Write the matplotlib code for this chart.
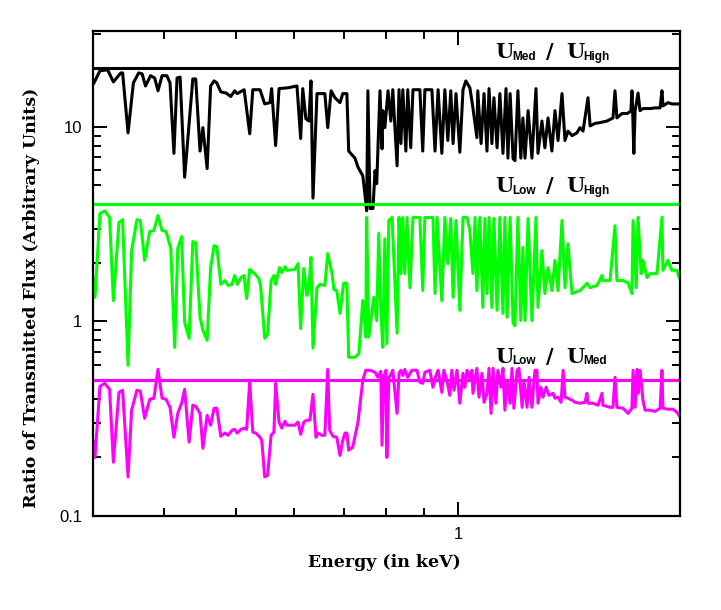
import matplotlib
matplotlib.use("Agg")
import matplotlib.pyplot as plt
from matplotlib.ticker import LogLocator, NullFormatter

# U_Med / U_High  (black)
energy_mh = [0.321, 0.327, 0.335, 0.341, 0.349, 0.351, 0.357, 0.363, 0.369, 0.373,
             0.377, 0.383, 0.388, 0.392, 0.397, 0.403, 0.407, 0.412, 0.416, 0.420,
             0.426, 0.437, 0.441, 0.447, 0.451, 0.457, 0.462, 0.467, 0.471, 0.477,
             0.485, 0.492, 0.498, 0.502, 0.513, 0.522, 0.527, 0.539, 0.547, 0.556,
             0.559, 0.566, 0.572, 0.588, 0.605, 0.612, 0.616, 0.622, 0.628, 0.632,
             0.636, 0.644, 0.660, 0.666, 0.673, 0.681, 0.692, 0.698, 0.707, 0.711,
             0.725, 0.732, 0.743, 0.748, 0.752, 0.755, 0.760, 0.767, 0.772, 0.776,
             0.784, 0.789, 0.791, 0.796, 0.804, 0.811, 0.816, 0.827, 0.832, 0.837,
             0.842, 0.850, 0.855, 0.863, 0.869, 0.888, 0.896, 0.902, 0.922, 0.931,
             0.940, 0.951, 0.960, 0.969, 0.978, 0.985, 0.994, 1.006, 1.016, 1.025,
             1.038, 1.048, 1.061, 1.064, 1.075, 1.085, 1.095, 1.102, 1.112, 1.119,
             1.130, 1.140, 1.151, 1.162, 1.169, 1.177, 1.188, 1.195, 1.206, 1.217,
             1.225, 1.233, 1.245, 1.260, 1.276, 1.284, 1.300, 1.312, 1.325, 1.341,
             1.354, 1.367, 1.384, 1.397, 1.410, 1.428, 1.450, 1.464, 1.478, 1.501,
             1.511, 1.534, 1.558, 1.593, 1.623, 1.633, 1.643, 1.669, 1.696, 1.716,
             1.722, 1.726, 1.732, 1.739, 1.755, 1.766, 1.782, 1.822, 1.851, 1.880,
             1.891, 1.897, 1.927, 1.951, 1.982, 2.000]
ratio_mh = [16.8, 19.4, 19.6, 17.0, 18.9, 18.9, 9.3, 16.8, 18.9, 18.7,
            16.2, 18.3, 17.8, 15.3, 18.3, 18.3, 16.8, 7.3, 17.8, 18.0,
            5.5, 17.6, 17.6, 7.5, 9.9, 6.1, 16.2, 17.2, 16.8, 15.1,
            14.9, 14.3, 15.3, 14.8, 15.5, 9.2, 15.5, 15.5, 13.1, 13.3,
            15.7, 8.0, 15.7, 15.85, 16.2, 8.7, 15.7, 11.0, 10.7, 17.2,
            4.3, 14.8, 14.8, 9.9, 15.3, 14.1, 13.3, 14.8, 14.8, 7.5,
            6.9, 6.2, 5.6, 4.5, 3.7, 15.3, 3.8, 3.8, 5.95, 5.1,
            15.3, 7.7, 12.1, 9.9, 15.3, 10.7, 15.5, 6.3, 15.5, 8.2,
            15.5, 7.5, 15.5, 7.8, 15.5, 15.5, 7.5, 15.5, 15.5, 7.5,
            15.5, 7.3, 15.5, 8.5, 15.3, 8.2, 14.8, 7.4, 15.5, 17.2,
            15.85, 12.5, 8.8, 15.3, 8.2, 14.8, 7.5, 15.7, 8.2, 14.1,
            7.8, 14.8, 7.3, 15.7, 6.9, 14.8, 6.85, 6.7, 15.3, 6.9,
            11.1, 6.9, 12.1, 6.9, 15.7, 7.3, 10.7, 7.8, 11.1, 7.5,
            12.1, 8.5, 14.8, 8.5, 9.5, 9.0, 9.3, 9.9, 9.5, 14.1,
            10.1, 10.4, 10.5, 10.7, 11.1, 15.3, 11.1, 11.7, 11.7, 12.0,
            15.3, 11.8, 7.3, 12.1, 14.9, 12.1, 12.4, 12.4, 12.5, 12.5,
            15.3, 12.8, 13.3, 13.1, 13.1, 13.1]

# U_Low / U_High  (green)
energy_lh = [0.320, 0.322, 0.327, 0.332, 0.337, 0.341, 0.347, 0.351, 0.357, 0.361,
             0.367, 0.371, 0.376, 0.382, 0.387, 0.392, 0.397, 0.402, 0.408, 0.413,
             0.417, 0.422, 0.426, 0.432, 0.437, 0.441, 0.447, 0.451, 0.457, 0.462,
             0.467, 0.471, 0.477, 0.483, 0.488, 0.494, 0.498, 0.502, 0.508, 0.513,
             0.517, 0.522, 0.530, 0.537, 0.540, 0.547, 0.552, 0.558, 0.563, 0.566,
             0.573, 0.577, 0.583, 0.586, 0.601, 0.607, 0.612, 0.618, 0.624, 0.628,
             0.632, 0.636, 0.644, 0.650, 0.660, 0.666, 0.675, 0.679, 0.685, 0.692,
             0.700, 0.707, 0.711, 0.725, 0.734, 0.743, 0.750, 0.752, 0.757, 0.764,
             0.769, 0.776, 0.781, 0.786, 0.791, 0.796, 0.801, 0.806, 0.814, 0.819,
             0.827, 0.832, 0.837, 0.842, 0.847, 0.853, 0.861, 0.869, 0.888, 0.896,
             0.902, 0.925, 0.931, 0.937, 0.951, 0.960, 0.969, 0.978, 0.985, 0.994,
             1.006, 1.016, 1.029, 1.038, 1.048, 1.055, 1.061, 1.071, 1.081, 1.088,
             1.095, 1.102, 1.112, 1.119, 1.130, 1.140, 1.151, 1.158, 1.166, 1.177,
             1.188, 1.195, 1.206, 1.217, 1.225, 1.233, 1.245, 1.260, 1.276, 1.284,
             1.300, 1.312, 1.325, 1.341, 1.354, 1.367, 1.384, 1.397, 1.410, 1.428,
             1.442, 1.464, 1.497, 1.511, 1.544, 1.568, 1.573, 1.608, 1.633, 1.643,
             1.675, 1.701, 1.722, 1.728, 1.745, 1.755, 1.772, 1.782, 1.805, 1.822,
             1.862, 1.891, 1.897, 1.927, 1.951, 1.982, 1.995]
ratio_lh = [1.68, 1.33, 3.58, 3.70, 3.42, 1.28, 3.22, 3.33, 0.595, 2.31,
            3.33, 3.30, 2.06, 2.90, 2.93, 3.50, 2.93, 2.90, 2.37, 0.736,
            2.37, 2.73, 0.99, 0.818, 2.57, 2.54, 1.05, 0.90, 0.80, 1.89,
            2.45, 2.42, 1.55, 1.62, 1.53, 1.55, 1.72, 1.55, 1.68, 1.72,
            1.31, 1.85, 1.76, 1.66, 1.53, 0.818, 0.86, 1.62, 1.72, 1.55,
            1.89, 1.78, 1.91, 1.83, 1.85, 1.98, 0.92, 1.87, 1.36, 1.49,
            2.13, 0.73, 1.49, 1.55, 1.53, 2.23, 1.76, 1.46, 1.44, 1.10,
            1.57, 1.57, 0.654, 0.654, 0.685, 1.28, 0.83, 3.42, 0.83, 1.10,
            1.33, 1.01, 2.83, 1.14, 0.736, 2.66, 0.77, 3.30, 3.42, 2.06,
            0.87, 3.42, 1.76, 3.42, 1.76, 3.42, 1.49, 3.42, 3.42, 1.44,
            3.42, 3.42, 1.39, 3.42, 1.28, 3.42, 1.98, 3.38, 1.33, 3.30,
            1.14, 3.42, 3.42, 2.93, 1.76, 3.42, 1.44, 3.42, 1.18, 3.38,
            1.39, 3.42, 1.18, 3.38, 1.14, 3.42, 1.10, 3.42, 1.05, 3.42,
            0.98, 0.95, 3.42, 1.01, 2.40, 1.01, 3.38, 1.01, 3.42, 1.18,
            2.31, 1.39, 1.89, 1.44, 2.06, 1.44, 3.30, 1.49, 2.51, 1.39,
            1.41, 1.44, 1.57, 1.49, 1.53, 1.72, 1.62, 1.62, 3.10, 1.62,
            1.62, 1.58, 1.39, 3.30, 1.49, 3.42, 1.76, 2.06, 1.68, 1.76,
            1.76, 3.42, 1.83, 2.06, 1.83, 1.83, 1.68]

# U_Low / U_Med  (magenta)
energy_lm = [0.320, 0.322, 0.327, 0.332, 0.337, 0.341, 0.347, 0.351, 0.357, 0.361,
             0.367, 0.371, 0.376, 0.382, 0.387, 0.392, 0.397, 0.402, 0.407, 0.412,
             0.417, 0.422, 0.426, 0.432, 0.437, 0.441, 0.447, 0.451, 0.457, 0.462,
             0.467, 0.471, 0.477, 0.483, 0.488, 0.494, 0.498, 0.502, 0.508, 0.513,
             0.517, 0.522, 0.527, 0.532, 0.539, 0.542, 0.547, 0.552, 0.558, 0.563,
             0.566, 0.572, 0.577, 0.583, 0.586, 0.601, 0.607, 0.612, 0.618, 0.624,
             0.630, 0.636, 0.642, 0.646, 0.654, 0.660, 0.666, 0.670, 0.677, 0.685,
             0.692, 0.698, 0.703, 0.707, 0.711, 0.720, 0.732, 0.743, 0.750, 0.760,
             0.772, 0.779, 0.786, 0.789, 0.794, 0.799, 0.801, 0.806, 0.816, 0.827,
             0.832, 0.837, 0.842, 0.847, 0.855, 0.866, 0.880, 0.888, 0.896, 0.902,
             0.916, 0.925, 0.934, 0.940, 0.951, 0.957, 0.966, 0.975, 0.981, 0.988,
             0.997, 1.006, 1.016, 1.022, 1.029, 1.038, 1.045, 1.048, 1.061, 1.068,
             1.078, 1.085, 1.095, 1.102, 1.109, 1.116, 1.126, 1.133, 1.144, 1.151,
             1.158, 1.166, 1.177, 1.184, 1.191, 1.203, 1.210, 1.222, 1.229, 1.241,
             1.249, 1.260, 1.272, 1.280, 1.284, 1.296, 1.304, 1.317, 1.329, 1.346,
             1.354, 1.367, 1.380, 1.389, 1.397, 1.410, 1.428, 1.442, 1.464, 1.487,
             1.496, 1.501, 1.525, 1.549, 1.568, 1.573, 1.608, 1.623, 1.633, 1.643,
             1.675, 1.701, 1.722, 1.728, 1.739, 1.750, 1.755, 1.766, 1.782, 1.794,
             1.822, 1.851, 1.880, 1.891, 1.897, 1.927, 1.957, 1.982, 1.995]
ratio_lm = [0.245, 0.200, 0.464, 0.481, 0.448, 0.189, 0.432, 0.443, 0.159, 0.350,
            0.443, 0.438, 0.318, 0.398, 0.403, 0.567, 0.403, 0.398, 0.362, 0.254,
            0.337, 0.380, 0.448, 0.240, 0.371, 0.366, 0.337, 0.223, 0.329, 0.293,
            0.358, 0.358, 0.257, 0.267, 0.260, 0.276, 0.279, 0.267, 0.279, 0.283,
            0.279, 0.492, 0.270, 0.267, 0.254, 0.245, 0.159, 0.162, 0.260, 0.270,
            0.481, 0.304, 0.283, 0.307, 0.293, 0.293, 0.304, 0.263, 0.304, 0.311,
            0.311, 0.422, 0.254, 0.267, 0.260, 0.260, 0.567, 0.276, 0.257, 0.254,
            0.205, 0.245, 0.267, 0.267, 0.218, 0.226, 0.304, 0.498, 0.561, 0.561,
            0.548, 0.516, 0.554, 0.231, 0.528, 0.561, 0.200, 0.510, 0.561, 0.337,
            0.541, 0.561, 0.528, 0.567, 0.516, 0.561, 0.561, 0.487, 0.481, 0.548,
            0.561, 0.459, 0.528, 0.561, 0.432, 0.561, 0.498, 0.417, 0.561, 0.443,
            0.561, 0.380, 0.541, 0.459, 0.561, 0.510, 0.561, 0.427, 0.574, 0.408,
            0.541, 0.384, 0.427, 0.574, 0.337, 0.574, 0.380, 0.561, 0.459, 0.574,
            0.350, 0.498, 0.380, 0.574, 0.358, 0.561, 0.574, 0.362, 0.498, 0.362,
            0.516, 0.362, 0.561, 0.561, 0.380, 0.459, 0.408, 0.459, 0.417, 0.427,
            0.403, 0.408, 0.384, 0.561, 0.408, 0.403, 0.394, 0.384, 0.380, 0.384,
            0.427, 0.380, 0.380, 0.371, 0.427, 0.371, 0.362, 0.362, 0.516, 0.362,
            0.358, 0.337, 0.358, 0.561, 0.362, 0.567, 0.427, 0.561, 0.394, 0.350,
            0.350, 0.345, 0.358, 0.561, 0.358, 0.354, 0.354, 0.341, 0.329]

# reference levels
level_mh = 20.0
level_lh = 4.0
level_lm = 0.5

fig = plt.figure(figsize=(7.21, 6.10), dpi=100)
ax = fig.add_axes([0.129, 0.154, 0.814, 0.795])

lw = 2.2
ax.plot(energy_mh, ratio_mh, color="black", lw=lw)
ax.plot(energy_lh, ratio_lh, color="#00ff00", lw=lw)
ax.plot(energy_lm, ratio_lm, color="#ff00ff", lw=lw)
ax.axhline(level_mh, color="black", lw=lw)
ax.axhline(level_lh, color="#00ff00", lw=lw)
ax.axhline(level_lm, color="#ff00ff", lw=lw)

ax.set_xscale("log")
ax.set_yscale("log")
ax.set_xlim(0.32, 2.0)
ax.set_ylim(0.1, 31)

ax.set_xticks([1])
ax.set_xticklabels(["1"])
ax.xaxis.set_minor_locator(LogLocator(base=10, subs=range(2, 10)))
ax.xaxis.set_minor_formatter(NullFormatter())
ax.set_yticks([0.1, 1, 10])
ax.set_yticklabels(["0.1", "1", "10"])
ax.yaxis.set_minor_locator(LogLocator(base=10, subs=range(2, 10)))
ax.yaxis.set_minor_formatter(NullFormatter())

ax.tick_params(which="both", direction="in", top=True, right=True, width=1.4,
               labelsize=12, pad=8)
ax.tick_params(which="major", length=10)
ax.tick_params(which="minor", length=5.5)
for lab in ax.get_xticklabels() + ax.get_yticklabels():
    lab.set_fontfamily("Liberation Sans")
for sp in ax.spines.values():
    sp.set_linewidth(1.6)

lab_font = dict(family="DejaVu Serif", fontweight="bold", fontsize=12.5)
ax.set_xlabel("Energy (in keV)", **lab_font)
ax.xaxis.set_label_coords(0.497, -0.078)
ax.set_ylabel("Ratio of Transmitted Flux (Arbitrary Units)", **lab_font)
ax.yaxis.set_label_coords(-0.090, 0.449)


# ratio labels: big "U", small bold subscript, slash
def ratio_label(y, sub1, sub2):
    big = dict(transform=ax.transAxes, va="baseline", ha="left",
               family="DejaVu Serif", fontweight="bold", fontsize=15)
    small = dict(transform=ax.transAxes, va="baseline", ha="left",
                 family="Liberation Sans", fontweight="bold", fontsize=8.5)
    ax.text(0.685, y, "U", **big)
    ax.text(0.714, y - 0.003, sub1, **small)
    ax.text(0.772, y, "/", **big)
    ax.text(0.806, y, "U", **big)
    ax.text(0.835, y - 0.003, sub2, **small)


ratio_label(0.944, "Med", "High")
ratio_label(0.668, "Low", "High")
ratio_label(0.316, "Low", "Med")

fig.savefig("out.png", dpi=100)
